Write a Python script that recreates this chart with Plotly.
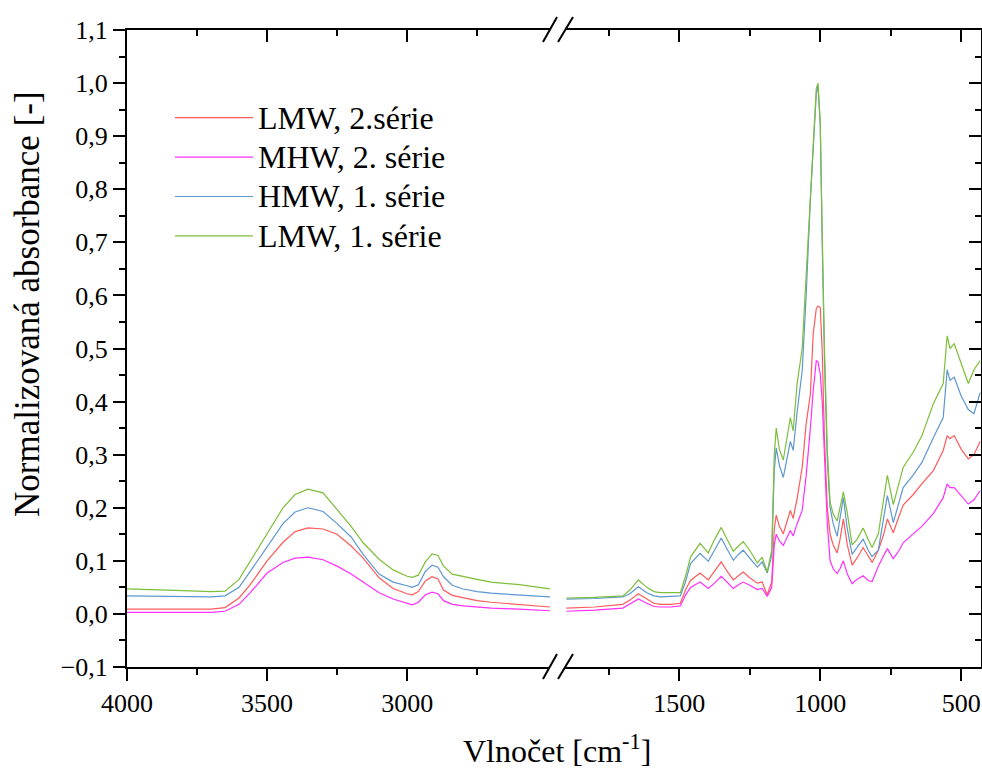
import plotly.graph_objects as go

# ---------------- data ----------------
# left segment wavenumbers (cm-1)
L_WN = [4000, 3900, 3800, 3700, 3650, 3600, 3560, 3500, 3443, 3400, 3354, 3300, 3250,
        3200, 3157, 3100, 3050, 3000, 2982, 2960, 2935, 2911, 2890, 2870, 2839, 2800,
        2750, 2700, 2600, 2490]
# right segment wavenumbers (cm-1)
R_WN = [1900, 1800, 1700, 1675, 1645, 1615, 1590, 1567, 1530, 1496, 1478, 1460, 1426,
        1397, 1375, 1351, 1330, 1308, 1290, 1273, 1250, 1223, 1206, 1188, 1172, 1163,
        1156, 1145, 1131, 1118, 1106, 1096, 1082, 1064, 1050, 1035, 1025, 1014, 1008,
        1000, 993, 985, 975, 965, 954, 940, 930, 918, 904, 887, 870, 848, 830, 816,
        794, 775, 762, 741, 720, 706, 670, 640, 599, 564, 550, 540, 525, 500, 475,
        455, 433]

LMW2_L = [0.009, 0.009, 0.008, 0.009, 0.012, 0.030, 0.055, 0.100, 0.135, 0.155, 0.162,
          0.160, 0.150, 0.128, 0.105, 0.068, 0.048, 0.038, 0.036, 0.042, 0.062, 0.070,
          0.066, 0.045, 0.035, 0.030, 0.025, 0.022, 0.018, 0.013]
LMW2_R = [0.011, 0.013, 0.018, 0.026, 0.038, 0.028, 0.020, 0.018, 0.018, 0.020, 0.045,
          0.063, 0.077, 0.064, 0.080, 0.098, 0.080, 0.064, 0.072, 0.079, 0.068, 0.058,
          0.060, 0.036, 0.060, 0.160, 0.186, 0.165, 0.151, 0.175, 0.195, 0.180, 0.217,
          0.276, 0.358, 0.414, 0.527, 0.575, 0.580, 0.577, 0.496, 0.330, 0.200, 0.150,
          0.130, 0.115, 0.140, 0.179, 0.130, 0.092, 0.105, 0.125, 0.110, 0.097, 0.120,
          0.150, 0.179, 0.153, 0.185, 0.205, 0.225, 0.245, 0.270, 0.308, 0.336, 0.330,
          0.336, 0.310, 0.292, 0.300, 0.325]

MHW2_L = [0.003, 0.003, 0.003, 0.003, 0.005, 0.018, 0.040, 0.077, 0.097, 0.105, 0.107,
          0.102, 0.090, 0.075, 0.060, 0.040, 0.028, 0.019, 0.017, 0.022, 0.036, 0.041,
          0.038, 0.025, 0.018, 0.015, 0.013, 0.011, 0.009, 0.006]
MHW2_R = [0.005, 0.007, 0.011, 0.018, 0.028, 0.020, 0.014, 0.013, 0.013, 0.015, 0.035,
          0.050, 0.060, 0.048, 0.058, 0.071, 0.060, 0.048, 0.055, 0.060, 0.054, 0.046,
          0.048, 0.033, 0.050, 0.130, 0.150, 0.138, 0.129, 0.145, 0.157, 0.147, 0.170,
          0.195, 0.260, 0.350, 0.420, 0.477, 0.475, 0.452, 0.400, 0.300, 0.170, 0.100,
          0.085, 0.076, 0.085, 0.100, 0.075, 0.057, 0.065, 0.072, 0.063, 0.061, 0.090,
          0.110, 0.123, 0.104, 0.120, 0.134, 0.150, 0.165, 0.189, 0.219, 0.245, 0.238,
          0.238, 0.222, 0.207, 0.215, 0.232]

HMW1_L = [0.034, 0.033, 0.032, 0.032, 0.034, 0.050, 0.080, 0.126, 0.170, 0.192, 0.200,
          0.193, 0.170, 0.145, 0.112, 0.075, 0.060, 0.053, 0.050, 0.055, 0.080, 0.092,
          0.088, 0.070, 0.054, 0.047, 0.042, 0.039, 0.036, 0.032]
HMW1_R = [0.028, 0.029, 0.032, 0.038, 0.051, 0.040, 0.034, 0.032, 0.033, 0.034, 0.060,
          0.095, 0.114, 0.099, 0.120, 0.143, 0.122, 0.101, 0.112, 0.120, 0.105, 0.088,
          0.098, 0.077, 0.110, 0.270, 0.313, 0.280, 0.257, 0.290, 0.325, 0.308, 0.380,
          0.458, 0.600, 0.780, 0.880, 0.980, 0.995, 0.920, 0.700, 0.480, 0.290, 0.200,
          0.170, 0.146, 0.180, 0.219, 0.160, 0.112, 0.125, 0.141, 0.120, 0.108, 0.120,
          0.180, 0.223, 0.172, 0.210, 0.238, 0.262, 0.285, 0.332, 0.370, 0.460, 0.440,
          0.446, 0.410, 0.385, 0.377, 0.417]

LMW1_L = [0.047, 0.046, 0.044, 0.042, 0.043, 0.065, 0.100, 0.152, 0.200, 0.225, 0.235,
          0.228, 0.196, 0.165, 0.134, 0.103, 0.083, 0.071, 0.069, 0.073, 0.098, 0.113,
          0.110, 0.090, 0.075, 0.070, 0.065, 0.060, 0.055, 0.047]
LMW1_R = [0.030, 0.031, 0.034, 0.045, 0.064, 0.050, 0.042, 0.040, 0.040, 0.040, 0.070,
          0.107, 0.133, 0.115, 0.140, 0.163, 0.140, 0.118, 0.128, 0.136, 0.120, 0.096,
          0.107, 0.079, 0.120, 0.300, 0.350, 0.310, 0.290, 0.330, 0.370, 0.345, 0.434,
          0.500, 0.640, 0.800, 0.900, 0.990, 1.000, 0.930, 0.720, 0.500, 0.310, 0.210,
          0.188, 0.175, 0.200, 0.230, 0.190, 0.130, 0.140, 0.162, 0.140, 0.125, 0.151,
          0.220, 0.261, 0.206, 0.245, 0.276, 0.305, 0.335, 0.396, 0.434, 0.524, 0.500,
          0.509, 0.470, 0.434, 0.460, 0.477]

SERIES_NAMES = ["LMW, 2.série", "MHW, 2. série", "HMW, 1. série", "LMW, 1. série"]
SERIES_COLORS = ["#FF5A5A", "#FF2EFF", "#5E97D0", "#7DBE3A"]

X_TICKS_L = [4000, 3500, 3000]
X_MINOR_L = [3750, 3250, 2750]
X_TICKS_R = [1500, 1000, 500]
X_MINOR_R = [1750, 1250, 750]

# ---------------- layout geometry ----------------
OFF = 0                      # body margin removed by post script
W, H = 982, 769
ML, MR, MT, MB = 127, 1, 30, 102
PW = W - ML - MR
PH = H - MT - MB


def px(xs):
    """screen x -> paper x"""
    return (xs - OFF - ML) / PW


def py(ys):
    """screen y -> paper y"""
    return (H + OFF - MB - ys) / PH


DOM_L = [0, px(550)]
DOM_R = [px(565), 1]
RANGE_L = [4000, 2490]
RANGE_R = [1905, 430]
RANGE_Y = [-0.1, 1.1]

FONT = "Liberation Serif"
TICKFONT = dict(family=FONT, size=26, color="black")

fig = go.Figure()
left_data = [LMW2_L, MHW2_L, HMW1_L, LMW1_L]
right_data = [LMW2_R, MHW2_R, HMW1_R, LMW1_R]
for name, col, yl, yr in zip(SERIES_NAMES, SERIES_COLORS, left_data, right_data):
    label = "<span style='font-size:32px'>" + name + "</span>"
    fig.add_trace(go.Scatter(x=L_WN, y=yl, xaxis="x", yaxis="y", mode="lines",
                             line=dict(color=col, width=1.2), name=label,
                             legendgroup=name, showlegend=True))
    fig.add_trace(go.Scatter(x=R_WN, y=yr, xaxis="x2", yaxis="y", mode="lines",
                             line=dict(color=col, width=1.2), name=label,
                             legendgroup=name, showlegend=False))

# empty helper traces so that the mirrored frame axes get drawn
for xa, ya in [("x3", "y"), ("x4", "y"), ("x2", "y2")]:
    fig.add_trace(go.Scatter(x=[None], y=[None], xaxis=xa, yaxis=ya, mode="lines",
                             showlegend=False, hoverinfo="skip"))

common_x = dict(showgrid=False, zeroline=False, showline=True, linecolor="black",
                linewidth=2, tickcolor="black", tickwidth=2, tickfont=TICKFONT)

fig.update_layout(
    width=W, height=H,
    margin=dict(l=ML, r=MR, t=MT, b=MB),
    paper_bgcolor="white", plot_bgcolor="white",
    separators=", ",
    xaxis=dict(domain=DOM_L, range=RANGE_L, anchor="y", tickmode="array",
               tickvals=X_TICKS_L, ticks="outside", ticklen=12,
               minor=dict(tickvals=X_MINOR_L, ticks="outside", ticklen=6,
                          tickwidth=2, tickcolor="black"),
               **common_x),
    xaxis2=dict(domain=DOM_R, range=RANGE_R, anchor="y", tickmode="array",
                tickvals=X_TICKS_R, ticks="outside", ticklen=12,
                minor=dict(tickvals=X_MINOR_R, ticks="outside", ticklen=6,
                           tickwidth=2, tickcolor="black"),
                **common_x),
    xaxis3=dict(domain=DOM_L, range=RANGE_L, overlaying="x", side="top", anchor="y",
                tickmode="array", tickvals=X_TICKS_L, ticks="inside", ticklen=12,
                showticklabels=False,
                minor=dict(tickvals=X_MINOR_L, ticks="inside", ticklen=6,
                           tickwidth=2, tickcolor="black"),
                **common_x),
    xaxis4=dict(domain=DOM_R, range=RANGE_R, overlaying="x2", side="top", anchor="y",
                tickmode="array", tickvals=X_TICKS_R, ticks="inside", ticklen=12,
                showticklabels=False,
                minor=dict(tickvals=X_MINOR_R, ticks="inside", ticklen=6,
                           tickwidth=2, tickcolor="black"),
                **common_x),
    yaxis=dict(range=RANGE_Y, anchor="x", dtick=0.1, tick0=0, tickformat=".1f",
               ticks="outside", ticklen=12,
               minor=dict(dtick=0.05, ticks="outside", ticklen=6, tickwidth=2,
                          tickcolor="black"),
               **common_x),
    yaxis2=dict(range=RANGE_Y, overlaying="y", side="right", anchor="x2", dtick=0.1,
                tick0=0, ticks="inside", ticklen=12, showticklabels=False,
                minor=dict(dtick=0.05, ticks="inside", ticklen=6, tickwidth=2,
                           tickcolor="black"),
                **common_x),
    legend=dict(x=px(170), y=py(93), xanchor="left", yanchor="top",
                font=dict(family=FONT, size=28, color="black"),
                bgcolor="rgba(0,0,0,0)", traceorder="normal",
                itemwidth=78),
    showlegend=True,
)

# break marks on top and bottom axes (screen pixel geometry)
for (x0, y0, x1, y1) in [(543, 42, 557, 17), (558, 42, 573, 17),
                         (543, 679, 557, 654), (558, 679, 573, 654)]:
    fig.add_shape(type="line", xref="paper", yref="paper",
                  x0=px(x0), y0=py(y0), x1=px(x1), y1=py(y1),
                  line=dict(color="black", width=2))

fig.add_annotation(text="Normalizovaná absorbance [-]", xref="paper", yref="paper",
                   x=px(27), y=py(304), textangle=-90, showarrow=False,
                   xanchor="center", yanchor="middle",
                   font=dict(family=FONT, size=35, color="black"))
fig.add_annotation(text="Vlnočet [cm<sup>-1</sup>]", xref="paper", yref="paper",
                   x=px(557), y=py(749), showarrow=False,
                   xanchor="center", yanchor="middle",
                   font=dict(family=FONT, size=32, color="black"))

fig.write_html(
    "out.html",
    config={"displayModeBar": False},
    post_script="document.body.style.margin='0';"
                "document.body.style.overflow='hidden';",
)
